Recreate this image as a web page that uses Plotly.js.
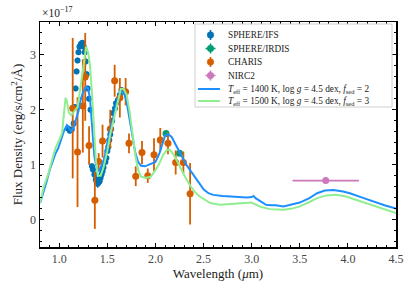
<!DOCTYPE html>
<html>
<head>
<meta charset="utf-8">
<script src="https://cdn.plot.ly/plotly-3.0.1.min.js"></script>
<style>html,body{margin:0;padding:0;background:#fff;}#chart{width:415px;height:291px;}</style>
</head>
<body>
<div id="chart"></div>
<script>
// Values in units of 1e-17 erg/s/cm^2/Å
const ifsWl = [1.09,1.11,1.13,1.15,1.16,1.17,1.18,1.19,1.20,1.21,1.225,1.24,1.255,1.265,1.275,1.285,1.295,1.31,1.325,1.34,1.35,1.365,1.38,1.39,1.40,1.41,1.42,1.43,1.44,1.45,1.46,1.48,1.49,1.50,1.51,1.52,1.53,1.54,1.55,1.56,1.58,1.59,1.61,1.63,1.646];
const ifsFlux = [1.66,1.62,1.64,1.75,2.05,2.39,2.70,2.90,3.05,3.15,3.20,3.22,3.15,3.05,2.88,2.65,2.39,2.20,2.00,0.97,0.91,0.82,0.73,0.68,0.66,0.68,0.70,0.76,0.82,0.88,0.95,1.05,1.12,1.25,1.32,1.45,1.55,1.65,1.80,1.94,2.03,2.12,2.18,2.27,2.36];
const ifsErr = [0.05,0.05,0.05,0.05,0.05,0.05,0.05,0.05,0.05,0.05,0.05,0.05,0.05,0.05,0.05,0.05,0.05,0.05,0.05,0.05,0.05,0.06,0.07,0.08,0.08,0.08,0.08,0.07,0.06,0.05,0.05,0.05,0.05,0.05,0.05,0.05,0.05,0.05,0.05,0.05,0.05,0.05,0.05,0.05,0.05];

const irdisWl = [2.11, 2.25];
const irdisFlux = [1.57, 1.21];
const irdisErr = [0.04, 0.04];

const charisWl = [1.14,1.19,1.245,1.27,1.31,1.37,1.41,1.45,1.53,1.576,1.63,1.69,1.725,1.795,1.86,1.92,1.985,2.05,2.13,2.21,2.29,2.36];
const charisFlux = [2.03,1.23,2.07,2.60,1.35,0.35,1.06,1.43,1.65,2.53,2.22,2.33,1.39,0.79,1.22,0.80,1.18,1.45,1.39,1.04,1.04,0.47];
const charisErr = [1.28,1.00,0.85,0.80,0.35,0.52,0.15,0.30,0.35,0.29,0.36,0.25,0.18,0.18,0.21,0.13,0.30,0.22,0.20,0.22,0.20,0.56];

const nircWl = [3.77];
const nircFlux = [0.71];
const nircXErr = [0.345];

const modelWl1400 = [0.80,0.84,0.87,0.90,0.93,0.96,0.99,1.02,1.05,1.08,1.10,1.125,1.15,1.17,1.20,1.225,1.25,1.28,1.30,1.32,1.335,1.35,1.365,1.385,1.40,1.42,1.44,1.47,1.50,1.53,1.56,1.60,1.64,1.67,1.70,1.73,1.76,1.79,1.82,1.85,1.89,1.93,1.97,2.00,2.04,2.07,2.10,2.13,2.17,2.22,2.27,2.32,2.36,2.40,2.45,2.50,2.55,2.60,2.70,2.77,2.85,2.95,3.00,3.02,3.04,3.10,3.15,3.20,3.25,3.33,3.40,3.50,3.60,3.68,3.76,3.85,3.95,4.02,4.15,4.26,4.38,4.50];
const modelFlux1400 = [0.30,0.52,0.70,0.90,1.05,1.20,1.30,1.45,1.62,1.72,1.66,1.61,1.68,1.80,1.98,2.20,2.33,2.42,2.39,2.20,1.85,1.45,1.15,0.98,0.88,0.90,0.98,1.12,1.40,1.62,1.85,2.15,2.33,2.32,2.15,1.85,1.50,1.22,1.05,0.98,0.97,1.00,1.02,1.05,1.20,1.38,1.53,1.56,1.50,1.33,1.15,1.00,0.90,0.80,0.68,0.55,0.48,0.45,0.43,0.42,0.41,0.40,0.41,0.43,0.39,0.33,0.27,0.26,0.26,0.24,0.27,0.31,0.39,0.48,0.53,0.54,0.51,0.48,0.40,0.33,0.26,0.20];

const modelWl1500 = [0.80,0.84,0.88,0.92,0.96,1.00,1.03,1.05,1.066,1.08,1.10,1.125,1.15,1.19,1.22,1.25,1.28,1.30,1.32,1.34,1.36,1.38,1.40,1.43,1.46,1.50,1.53,1.57,1.60,1.64,1.67,1.70,1.73,1.76,1.79,1.82,1.85,1.90,1.95,2.00,2.04,2.08,2.12,2.15,2.19,2.23,2.27,2.31,2.36,2.41,2.46,2.52,2.57,2.67,2.80,2.95,3.00,3.03,3.10,3.19,3.27,3.33,3.42,3.50,3.60,3.68,3.78,3.88,3.98,4.10,4.26,4.38,4.50];
const modelFlux1500 = [0.30,0.60,0.80,1.05,1.30,1.45,1.58,1.95,2.22,2.15,1.95,1.90,1.95,2.05,2.40,2.80,3.15,3.05,2.80,2.30,1.65,1.10,0.80,0.80,0.95,1.25,1.55,1.85,2.10,2.38,2.38,2.28,1.98,1.58,1.18,0.90,0.78,0.76,0.78,0.90,1.02,1.18,1.27,1.27,1.18,1.05,0.90,0.77,0.62,0.50,0.42,0.35,0.30,0.27,0.29,0.30,0.31,0.28,0.23,0.19,0.19,0.18,0.20,0.24,0.32,0.39,0.44,0.45,0.42,0.35,0.25,0.18,0.12];

const xTicks = [1.0,1.5,2.0,2.5,3.0,3.5,4.0,4.5];
const yTicks = [0,1,2,3];

const FONT = "Liberation Serif, DejaVu Serif, serif";
const cIFS = "#0173b2", cIRD = "#029e73", cCH = "#d55e00", cNIR = "#cc78bc";
const cM1 = "#1e8fff", cM2 = "#90ee90";

const legendItems = [
  {name: "SPHERE/IFS", color: cIFS, kind: "pt", vbar: true, hbar: false},
  {name: "SPHERE/IRDIS", color: cIRD, kind: "pt", vbar: true, hbar: true},
  {name: "CHARIS", color: cCH, kind: "pt", vbar: true, hbar: false},
  {name: "NIRC2", color: cNIR, kind: "pt", vbar: true, hbar: true},
  {name: "<i>T</i><sub>eff</sub> = 1400 K, log <i>g</i> = 4.5 dex, <i>f</i><sub>sed</sub> = 2", color: cM1, kind: "line"},
  {name: "<i>T</i><sub>eff</sub> = 1500 K, log <i>g</i> = 4.5 dex, <i>f</i><sub>sed</sub> = 3", color: cM2, kind: "line"}
];

const traces = [
  {x: ifsWl, y: ifsFlux, type: "scatter", mode: "markers", name: "SPHERE/IFS",
   marker: {color: cIFS, size: 6}, error_y: {type: "data", array: ifsErr, color: cIFS, thickness: 1.5, width: 0}},
  {x: irdisWl, y: irdisFlux, type: "scatter", mode: "markers", name: "SPHERE/IRDIS",
   marker: {color: cIRD, size: 7}, error_y: {type: "data", array: irdisErr, color: cIRD, thickness: 1.5, width: 0}},
  {x: charisWl, y: charisFlux, type: "scatter", mode: "markers", name: "CHARIS",
   marker: {color: cCH, size: 7}, error_y: {type: "data", array: charisErr, color: cCH, thickness: 1.8, width: 0}},
  {x: nircWl, y: nircFlux, type: "scatter", mode: "markers", name: "NIRC2",
   marker: {color: cNIR, size: 7}, error_x: {type: "data", array: nircXErr, color: cNIR, thickness: 1.8, width: 0}},
  {x: modelWl1400, y: modelFlux1400, type: "scatter", mode: "lines", name: "1400 K model",
   line: {color: cM1, width: 2}},
  {x: modelWl1500, y: modelFlux1500, type: "scatter", mode: "lines", name: "1500 K model",
   line: {color: cM2, width: 2}}
];

// plot area in pixels: x 40..396, y 22..247
const PL = 40, PR = 396, PT = 22, PB = 247;
const px2x = p => (p - PL) / (PR - PL);
const py2y = p => (PB - p) / (PB - PT);

const shapes = [];
const annotations = [];
// legend box
shapes.push({type: "rect", xref: "paper", yref: "paper", x0: px2x(195), x1: px2x(392), y0: py2y(24), y1: py2y(107),
  fillcolor: "rgba(255,255,255,0.92)", line: {color: "#d0d0d0", width: 1}, layer: "above"});
const rowY = [35, 48.5, 62, 75.5, 89, 101];
legendItems.forEach((it, i) => {
  const yy = py2y(rowY[i]);
  if (it.kind === "pt") {
    const xc = px2x(210.5);
    if (it.vbar) shapes.push({type: "line", xref: "paper", yref: "paper", xsizemode: "pixel", ysizemode: "pixel",
      xanchor: xc, yanchor: yy, x0: 0, x1: 0, y0: -5, y1: 5, line: {color: it.color, width: 1.6}, layer: "above"});
    if (it.hbar) shapes.push({type: "line", xref: "paper", yref: "paper", xsizemode: "pixel", ysizemode: "pixel",
      xanchor: xc, yanchor: yy, x0: -5, x1: 5, y0: 0, y1: 0, line: {color: it.color, width: 1.6}, layer: "above"});
    shapes.push({type: "circle", xref: "paper", yref: "paper", xsizemode: "pixel", ysizemode: "pixel",
      xanchor: xc, yanchor: yy, x0: -3.3, x1: 3.3, y0: -3.3, y1: 3.3, fillcolor: it.color, line: {color: it.color, width: 0.5}, layer: "above"});
  } else {
    shapes.push({type: "line", xref: "paper", yref: "paper", x0: px2x(198), x1: px2x(220), y0: yy, y1: yy,
      line: {color: it.color, width: 2}, layer: "above"});
  }
  annotations.push({xref: "paper", yref: "paper", x: px2x(226), y: yy, xanchor: "left", yanchor: "middle",
    text: it.name, showarrow: false, font: {family: FONT, size: 9.3, color: "#222"}});
});
annotations.push({xref: "paper", yref: "paper", x: 0, y: 1, xanchor: "left", yanchor: "bottom", yshift: 1,
  text: "×10<sup>−17</sup>", showarrow: false, font: {family: FONT, size: 11.5, color: "#222"}});

const axisCommon = {
  showline: true, linecolor: "#000", linewidth: 1.5, mirror: "allticks",
  ticks: "inside", ticklen: 4, tickwidth: 1, tickcolor: "#000",
  showgrid: false, zeroline: false,
  tickfont: {family: FONT, size: 12, color: "#444"}
};

const layout = {
  width: 415, height: 291,
  margin: {l: 40, r: 19, t: 22, b: 44},
  paper_bgcolor: "#fff", plot_bgcolor: "#fff",
  font: {family: FONT, size: 10, color: "#222"},
  showlegend: false,
  xaxis: Object.assign({}, axisCommon, {
    range: [0.8, 4.5], tickvals: xTicks, ticktext: xTicks.map(v => v.toFixed(1)),
    minor: {dtick: 0.1, ticks: "inside", ticklen: 2, tickcolor: "#000"},
    title: {text: "Wavelength (<i>μ</i>m)", font: {family: FONT, size: 13, color: "#222"}, standoff: 1}
  }),
  yaxis: Object.assign({}, axisCommon, {
    range: [-0.5, 3.6], tickvals: yTicks, ticktext: yTicks.map(String),
    minor: {dtick: 0.2, ticks: "inside", ticklen: 2, tickcolor: "#000"},
    title: {text: "Flux Density (erg/s/cm<sup>2</sup>/Å)", font: {family: FONT, size: 13, color: "#222"}, standoff: 4}
  }),
  shapes: shapes,
  annotations: annotations
};

Plotly.newPlot("chart", traces, layout, {displayModeBar: false, staticPlot: true});
</script>
</body>
</html>
